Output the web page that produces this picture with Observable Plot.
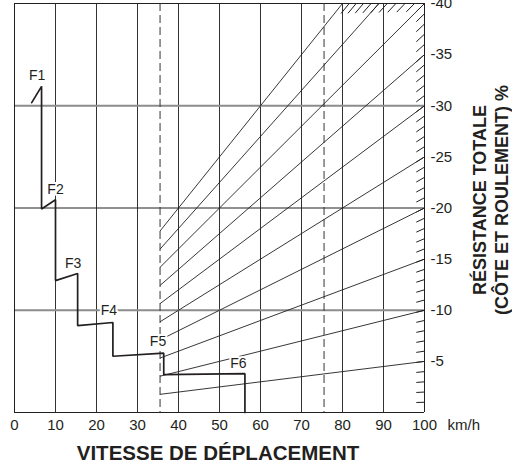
<!DOCTYPE html>
<html>
<head>
<meta charset="utf-8">
<script src="https://cdn.jsdelivr.net/npm/d3@7"></script>
<script src="https://cdn.jsdelivr.net/npm/@observablehq/plot@0.6"></script>
<style>
  body { margin: 0; background: white; }
</style>
</head>
<body>
<div id="chart"></div>
<script>
// ---- data ----
const speedTicks = [0, 10, 20, 30, 40, 50, 60, 70, 80, 90, 100];
const resistTicks = [5, 10, 15, 20, 25, 30, 35, 40];
const gridSpeeds = [10, 20, 30, 40, 50, 60, 70, 80, 90];
const dashedSpeeds = [35.5, 75.5];

// gear curves (speed km/h, resistance %)
const gearNames = ["F1", "F2", "F3", "F4", "F5", "F6"];
const gearStartSpeed = [4.2, 6.6, 10.0, 15.4, 24.0, 36.4];
const gearStartRes   = [30.3, 19.9, 12.9, 8.5, 5.5, 3.7];
const gearEndSpeed   = [6.6, 10.0, 15.4, 24.0, 36.4, 56.2];
const gearEndRes     = [31.9, 20.8, 13.6, 8.8, 5.8, 3.8];
const gearLabelSpeed = [5.5, 10.0, 14.3, 23.0, 35.0, 54.6];
const gearLabelRes   = [33.0, 21.8, 14.6, 10.0, 6.9, 4.8];

// fan of resistance lines (value reached at 100 km/h)
const fanGrades = [5, 10, 15, 20, 25, 30, 35, 40, 45, 50];
const fanStartSpeed = 35.5;
// hatch marks along the right edge and the top edge
const hatchRight = [1,2,3,4,5,6,7,8,9,10,11,12,13,14,15,16,17,18,19,20,21,22,23,24,25,26,27,28,29,30,31,32,33,34,35,36,37,38,39,40];
const hatchTop = [41,42,43,44,45,46,47,48,49];

// ---- derived tables ----
const gearPath = [];
gearNames.forEach((g, i) => {
  gearPath.push({x: gearStartSpeed[i], y: gearStartRes[i]});
  gearPath.push({x: gearEndSpeed[i], y: gearEndRes[i]});
});
gearPath.push({x: gearEndSpeed[gearEndSpeed.length - 1], y: 0});
const gearLabels = gearNames.map((n, i) => ({name: n, x: gearLabelSpeed[i], y: gearLabelRes[i]}));

const endX = g => Math.min(100, 4000 / g);
const fanLines = fanGrades.map(g => ({x1: fanStartSpeed, y1: g * fanStartSpeed / 100, x2: endX(g), y2: g * endX(g) / 100}));
const hatches = hatchRight.concat(hatchTop).map(g => {
  const x2 = endX(g), x1 = x2 - 2;
  return {x1, y1: g * x1 / 100, x2, y2: g * x2 / 100};
});

const ink = "#231f20";
const font = "Liberation Sans, Arial, Helvetica, sans-serif";

const chart = Plot.plot({
  width: 512,
  height: 466,
  marginLeft: 14,
  marginRight: 88,
  marginTop: 3,
  marginBottom: 54,
  x: {domain: [0, 100]},
  y: {domain: [0, 40]},
  style: {fontFamily: font, fontSize: "15px", color: ink, background: "white", overflow: "visible"},
  marks: [
    Plot.ruleX(gridSpeeds, {stroke: "#333", strokeWidth: 1}),
    Plot.ruleY([10, 30], {stroke: "#8c8c8c", strokeWidth: 2}),
    Plot.ruleY([20, 40], {stroke: ink, strokeWidth: 1}),
    Plot.ruleX([0, 100], {stroke: ink, strokeWidth: 1}),
    Plot.ruleY([0], {stroke: ink, strokeWidth: 1}),
    Plot.ruleX(dashedSpeeds, {stroke: "#333", strokeWidth: 1, strokeDasharray: "8,4"}),
    Plot.link(fanLines, {x1: "x1", y1: "y1", x2: "x2", y2: "y2", stroke: ink, strokeWidth: 0.9}),
    Plot.link(hatches, {x1: "x1", y1: "y1", x2: "x2", y2: "y2", stroke: ink, strokeWidth: 1}),
    Plot.text(gearLabels, {x: "x", y: "y", text: "name", fontSize: 14, fill: ink,
      stroke: "white", strokeWidth: 4, textAnchor: "middle", lineAnchor: "middle"}),
    Plot.line(gearPath, {x: "x", y: "y", stroke: ink, strokeWidth: 1.7, strokeLinejoin: "miter"}),
    Plot.axisX({ticks: speedTicks, tickSize: 0, tickPadding: 7, label: null, fontSize: 15, fill: ink}),
    Plot.axisY({anchor: "right", ticks: resistTicks, tickSize: 0, tickPadding: 6, label: null,
      tickFormat: d => "-" + d, fontSize: 15, fill: ink}),
    Plot.text(["km/h"], {frameAnchor: "bottom-right", textAnchor: "start", lineAnchor: "middle",
      dx: 23, dy: 13, fontSize: 15, fill: ink}),
    Plot.text(["VITESSE DE DÉPLACEMENT"], {frameAnchor: "bottom", lineAnchor: "middle",
      dx: -1.5, dy: 41, fontSize: 20.5, fontWeight: "bold", fill: ink}),
    Plot.text(["RÉSISTANCE TOTALE\n(CÔTE ET ROULEMENT) %"], {frameAnchor: "right", rotate: -90,
      lineAnchor: "middle", textAnchor: "middle", lineHeight: 1.22, dx: 65, dy: -8,
      fontSize: 18, fontWeight: "bold", fill: ink})
  ]
});
document.getElementById("chart").appendChild(chart);
</script>
</body>
</html>
